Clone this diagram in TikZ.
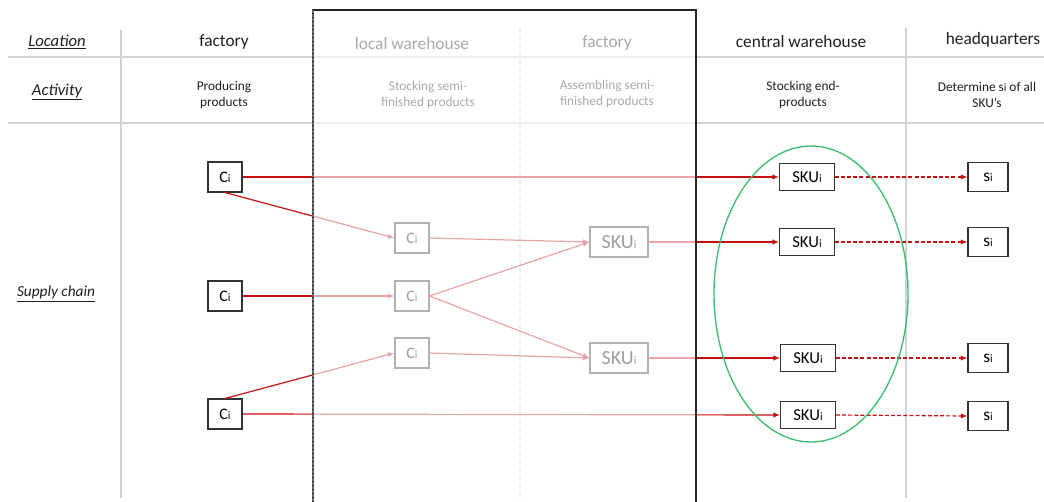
\documentclass[tikz,border=0pt]{standalone}
\usepackage{fontspec}
\setmainfont{Carlito}
\usetikzlibrary{arrows.meta}
\definecolor{flowred}{RGB}{196,16,16}
\definecolor{ringgreen}{RGB}{60,190,110}
\definecolor{rulegray}{RGB}{210,210,210}
\newcommand\smalli{{\fontsize{8.5}{8.5}\selectfont i}}
\begin{document}
\begin{tikzpicture}[x=0.75pt,y=-0.75pt,
  gridline/.style={draw=rulegray, line width=0.8pt},
  hdr/.style={font=\fontsize{13}{15}\selectfont, text=black!88},
  act/.style={font=\fontsize{10}{11.5}\selectfont, align=center, text=black!88},
  rowlbl/.style={font=\fontsize{12.5}{15}\selectfont\itshape, text=black!88},
  cbox/.style={draw=black!80, fill=white, line width=0.8pt, inner sep=0pt,
    minimum width=25.5pt, minimum height=22.5pt, font=\fontsize{12}{14}\selectfont},
  skubig/.style={cbox, minimum width=43.5pt, minimum height=22.5pt, font=\fontsize{15}{17}\selectfont},
  skubox/.style={cbox, minimum width=41pt, minimum height=20.5pt, font=\fontsize{12.5}{14}\selectfont},
  sbox/.style={cbox, minimum width=30pt, minimum height=22pt, font=\fontsize{13}{15}\selectfont},
  flow/.style={draw=flowred, line width=0.9pt, -{Latex[length=5pt,width=4pt]}},
  dflow/.style={flow, dash pattern=on 3pt off 1.6pt},
]
\useasboundingbox (0,0) rectangle (1044,502);

% table rules
\draw[gridline] (8,57) -- (1044,57);
\draw[gridline] (8,123) -- (1044,123);
\draw[gridline] (121,30) -- (121,498);
\draw[gridline] (906,28) -- (906,498);
\draw[gridline, dash pattern=on 4pt off 2pt] (520,28) -- (520,498);

% row labels
\node[rowlbl] (loc) at (57,42) {\underline{Location}};
\node[rowlbl] (actv) at (57,92) {\underline{Activity}};
\node[rowlbl, font=\fontsize{11.5}{14}\selectfont\itshape] (sc) at (56,294) {\underline{Supply chain}};

% locations
\node[hdr] (h1) at (224,42) {factory};
\node[hdr] (h2) at (412,44) {local warehouse};
\node[hdr] (h3) at (607,43) {factory};
\node[hdr] (h4) at (801,42) {central warehouse};
\node[hdr] (h5) at (993,40) {headquarters};

% activities
\node[act] (a1) at (224,95) {Producing\\products};
\node[act] (a2) at (428,95) {Stocking semi-\\finished products};
\node[act] (a3) at (607,94) {Assembling semi-\\finished products};
\node[act] (a4) at (803,95) {Stocking end-\\products};
\node[act] (a5) at (987,95) {Determine s\smalli{} of all\\SKU’s};

% factory components
\node[cbox] (f1) at (225,177) {C\smalli};
\node[cbox] (f2) at (225,296) {C\smalli};
\node[cbox] (f3) at (225,414) {C\smalli};

% local warehouse components
\node[cbox] (l1) at (412,238) {C\smalli};
\node[cbox] (l2) at (412,296) {C\smalli};
\node[cbox] (l3) at (412,353) {C\smalli};

% assembled SKUs
\node[skubig] (ka) at (619,242) {SKU\smalli};
\node[skubig] (kb) at (619,358) {SKU\smalli};

% central warehouse SKUs
\node[skubox] (c1) at (807,177) {SKU\smalli};
\node[skubox] (c2) at (807,242) {SKU\smalli};
\node[skubox] (c3) at (808,358) {SKU\smalli};
\node[skubox] (c4) at (808,415) {SKU\smalli};

% headquarters
\node[sbox] (s1) at (988,177) {s\smalli};
\node[sbox] (s2) at (988,242) {s\smalli};
\node[sbox] (s3) at (988,358) {s\smalli};
\node[sbox] (s4) at (988,416) {s\smalli};

% material flows
\draw[flow] (f1.east) -- (c1.west);
\draw[flow] (f1.south) -- (l1.west);
\draw[flow] (f2.east) -- (l2.west);
\draw[flow] (f3.north) -- (l3.west);
\draw[flow] (f3.east) -- (c4.west);
\draw[flow] (l1.east) -- (ka.west);
\draw[flow] (l2.east) -- (ka.west);
\draw[flow] (l2.east) -- (kb.west);
\draw[flow] (l3.east) -- (kb.west);
\draw[flow] (ka.east) -- (c2.west);
\draw[flow] (kb.east) -- (c3.west);

% information flows
\draw[dflow] (c1.east) -- (s1.west);
\draw[dflow] (c2.east) -- (s2.west);
\draw[dflow] (c3.east) -- (s3.west);
\draw[dflow] (c4.east) -- (s4.west);

% faded block of local stages
\fill[white, fill opacity=0.62] (313,10) rectangle (696,504);
\draw[black!85, line width=0.8pt] (313,504) -- (313,10) -- (696,10) -- (696,504);
\draw[black!60, line width=0.8pt, dash pattern=on 2pt off 1pt] (313,10) -- (313,504);

% end-product stock
\draw[ringgreen, line width=1pt] (811,294) ellipse [x radius=97, y radius=148];
\end{tikzpicture}
\end{document}
